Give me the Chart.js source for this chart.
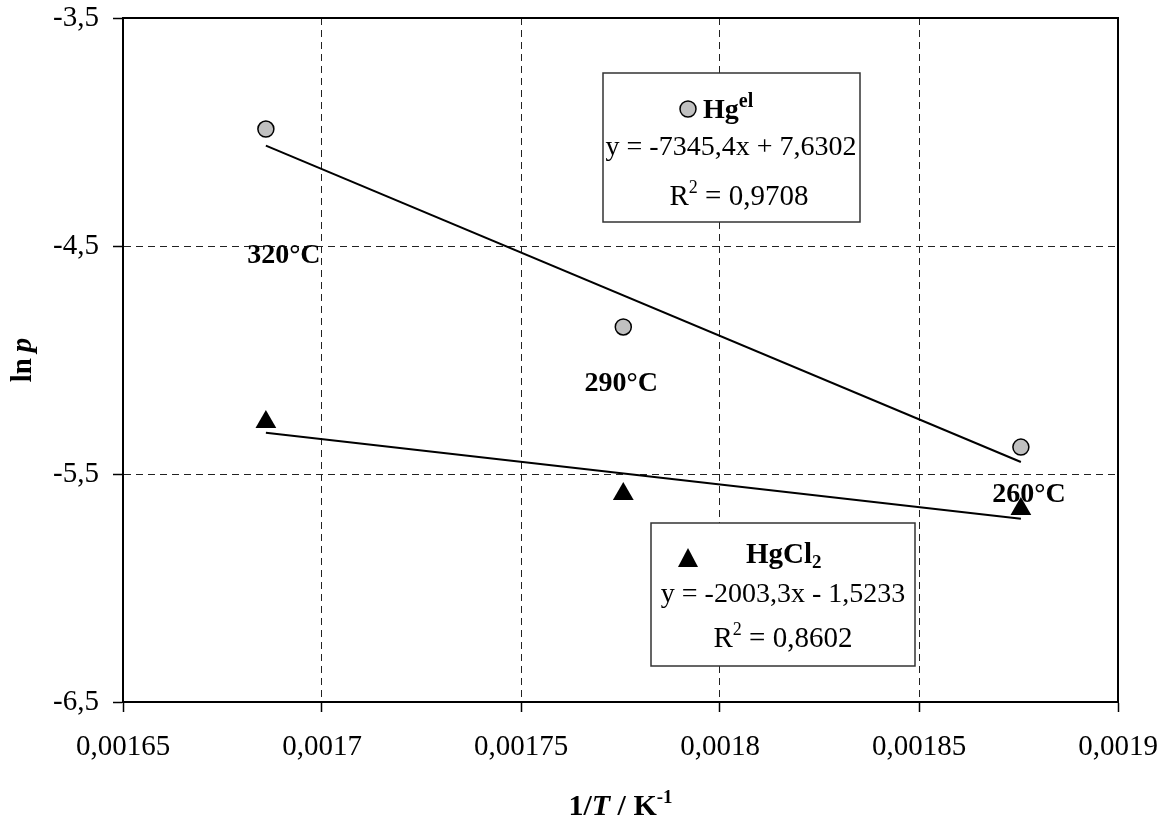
<!DOCTYPE html>
<html>
<head>
<meta charset="utf-8">
<title>ln p vs 1/T</title>
<script src="https://cdn.jsdelivr.net/npm/chart.js@4.4.0/dist/chart.umd.min.js"></script>
<style>
    html, body { margin: 0; padding: 0; background: #fff; }
    #wrap { width: 1168px; height: 818px; }
</style>
</head>
<body>
<div id="wrap"><canvas id="chart" width="1168" height="818"></canvas></div>
<script>
// Measured points: inverse temperature vs ln p
const temps = ['320°C', '290°C', '260°C'];
const invT = [0.0016859, 0.0017757, 0.0018756];
const lnpHg = [-3.987, -4.855, -5.382];
const lnpHgCl2 = [-5.272, -5.588, -5.654];

// Axis ticks
const xTicks = [0.00165, 0.0017, 0.00175, 0.0018, 0.00185, 0.0019];
const xTickLabels = ['0,00165', '0,0017', '0,00175', '0,0018', '0,00185', '0,0019'];
const yTicks = [-6.5, -5.5, -4.5, -3.5];
const yTickLabels = ['-6,5', '-5,5', '-4,5', '-3,5'];

// Trendline text shown in the boxes
const eqHg = 'y = -7345,4x + 7,6302';
const r2Hg = '0,9708';
const eqHgCl2 = 'y = -2003,3x - 1,5233';
const r2HgCl2 = '0,8602';

const SERIF = "'Liberation Serif', 'Times New Roman', serif";
const f = (size, weight = 'normal', style = 'normal') => `${style} ${weight} ${size}px ${SERIF}`;

// least-squares line through the points, returned as its two end points
const trend = (xs, ys) => {
    const n = xs.length;
    const mx = xs.reduce((a, b) => a + b, 0) / n;
    const my = ys.reduce((a, b) => a + b, 0) / n;
    let sxy = 0, sxx = 0;
    xs.forEach((x, i) => { sxy += (x - mx) * (ys[i] - my); sxx += (x - mx) * (x - mx); });
    const m = sxy / sxx;
    const x0 = Math.min(...xs), x1 = Math.max(...xs);
    return [{ x: x0, y: my + m * (x0 - mx) }, { x: x1, y: my + m * (x1 - mx) }];
};

const pts = (xs, ys) => xs.map((x, i) => ({ x, y: ys[i] }));

// draws a run of [text, font, raise] pieces, for super/subscripts
const drawRuns = (ctx, runs, x, y, align) => {
    let total = 0;
    runs.forEach(r => { ctx.font = r[1]; total += ctx.measureText(r[0]).width; });
    let cx = align === 'center' ? x - total / 2 : x;
    ctx.textAlign = 'left';
    ctx.textBaseline = 'alphabetic';
    runs.forEach(r => {
        ctx.font = r[1];
        ctx.fillText(r[0], cx, y - (r[2] || 0));
        cx += ctx.measureText(r[0]).width;
    });
};

const drawCircle = (ctx, x, y) => {
    ctx.beginPath();
    ctx.arc(x, y, 8, 0, Math.PI * 2);
    ctx.fillStyle = '#c0c0c0';
    ctx.fill();
    ctx.lineWidth = 1.5;
    ctx.strokeStyle = '#000';
    ctx.stroke();
};

const drawTriangle = (ctx, x, y) => {
    ctx.beginPath();
    ctx.moveTo(x, y - 11);
    ctx.lineTo(x + 10, y + 8);
    ctx.lineTo(x - 10, y + 8);
    ctx.closePath();
    ctx.fillStyle = '#000';
    ctx.fill();
};

// temperature label offsets from their point (pixels)
const tempOffsets = [{ dx: 18, dy: 134 }, { dx: -2, dy: 64 }, { dx: 8, dy: 55 }];

// keep the plot area fixed: no extra room for overhanging tick labels
const noOverhang = (s) => {
    s.paddingTop = 0; s.paddingBottom = 0; s.paddingLeft = 0; s.paddingRight = 0;
};

const decor = {
    id: 'decor',
    afterDraw(chart) {
        const { ctx, chartArea: a, scales } = chart;
        ctx.save();

        // full frame round the plot
        ctx.lineWidth = 2;
        ctx.strokeStyle = '#000';
        ctx.strokeRect(a.left, a.top, a.right - a.left, a.bottom - a.top);

        ctx.fillStyle = '#000';
        temps.forEach((t, i) => {
            const px = scales.x.getPixelForValue(invT[i]);
            const py = scales.y.getPixelForValue(lnpHg[i]);
            drawRuns(ctx, [[t, f(28, 'bold')]], px + tempOffsets[i].dx, py + tempOffsets[i].dy, 'center');
        });

        // Hg box
        ctx.fillStyle = '#fff';
        ctx.fillRect(603, 73, 257, 149);
        ctx.lineWidth = 1.5;
        ctx.strokeStyle = '#333';
        ctx.strokeRect(603, 73, 257, 149);
        drawCircle(ctx, 688, 109);
        ctx.fillStyle = '#000';
        drawRuns(ctx, [['Hg', f(28, 'bold')], ['el', f(20, 'bold'), 11]], 703, 118, 'left');
        drawRuns(ctx, [[eqHg, f(28)]], 731, 155, 'center');
        drawRuns(ctx, [['R', f(29)], ['2', f(18), 12], [' = ' + r2Hg, f(29)]], 739, 205, 'center');

        // HgCl2 box
        ctx.fillStyle = '#fff';
        ctx.fillRect(651, 523, 264, 143);
        ctx.strokeStyle = '#333';
        ctx.strokeRect(651, 523, 264, 143);
        drawTriangle(ctx, 688, 559);
        ctx.fillStyle = '#000';
        drawRuns(ctx, [['HgCl', f(29, 'bold')], ['2', f(19, 'bold'), -5]], 746, 563, 'left');
        drawRuns(ctx, [[eqHgCl2, f(28)]], 783, 602, 'center');
        drawRuns(ctx, [['R', f(29)], ['2', f(18), 12], [' = ' + r2HgCl2, f(29)]], 783, 647, 'center');

        // axis titles
        const cx = (a.left + a.right) / 2;
        drawRuns(ctx, [['1/', f(30, 'bold')], ['T', f(30, 'bold', 'italic')], [' / K', f(30, 'bold')], ['-1', f(19, 'bold'), 12]], cx, 815, 'center');

        ctx.translate(31, (a.top + a.bottom) / 2);
        ctx.rotate(-Math.PI / 2);
        drawRuns(ctx, [['ln', f(29, 'bold')], ['\u2009', f(29, 'bold')], ['p', f(29, 'bold', 'italic')]], 0, 0, 'center');

        ctx.restore();
    }
};

const tickFont = { family: SERIF, size: 29 };

new Chart(document.getElementById('chart'), {
    type: 'scatter',
    data: {
        datasets: [
            {
                label: 'Hg trend',
                type: 'line',
                data: trend(invT, lnpHg),
                borderColor: '#000',
                borderWidth: 2,
                pointRadius: 0,
                fill: false,
            },
            {
                label: 'HgCl2 trend',
                type: 'line',
                data: trend(invT, lnpHgCl2),
                borderColor: '#000',
                borderWidth: 2,
                pointRadius: 0,
                fill: false,
            },
            {
                label: 'Hg',
                data: pts(invT, lnpHg),
                pointStyle: 'circle',
                pointRadius: 8,
                backgroundColor: '#c0c0c0',
                borderColor: '#000',
                borderWidth: 1.5,
            },
            {
                label: 'HgCl2',
                data: pts(invT, lnpHgCl2),
                pointStyle: 'triangle',
                pointRadius: 12,
                backgroundColor: '#000',
                borderColor: '#000',
                borderWidth: 0,
            },
        ],
    },
    options: {
        responsive: false,
        animation: false,
        layout: { padding: { top: 18, right: 50, left: 0, bottom: 0 } },
        plugins: { legend: { display: false }, tooltip: { enabled: false } },
        scales: {
            x: {
                type: 'linear',
                min: 0.00165,
                max: 0.0019,
                afterBuildTicks: (s) => { s.ticks = xTicks.map(v => ({ value: v })); },
                afterFit: (s) => { s.height = 116; noOverhang(s); },
                ticks: {
                    callback: (v, i) => xTickLabels[i],
                    font: tickFont,
                    color: '#000',
                    padding: 18,
                    maxRotation: 0,
                    autoSkip: false,
                },
                grid: { color: '#222', lineWidth: 1, tickLength: 10, tickColor: '#000', tickWidth: 1.5 },
                border: { color: '#000', width: 2, dash: [7, 5] },
            },
            y: {
                type: 'linear',
                min: -6.5,
                max: -3.5,
                afterBuildTicks: (s) => { s.ticks = yTicks.map(v => ({ value: v })); },
                afterFit: (s) => { s.width = 123; noOverhang(s); },
                ticks: {
                    callback: (v, i) => yTickLabels[i],
                    font: tickFont,
                    color: '#000',
                    padding: 14,
                    autoSkip: false,
                },
                grid: { color: '#222', lineWidth: 1, tickLength: 10, tickColor: '#000', tickWidth: 1.5 },
                border: { color: '#000', width: 2, dash: [7, 5] },
            },
        },
    },
    plugins: [decor],
});
</script>
</body>
</html>
